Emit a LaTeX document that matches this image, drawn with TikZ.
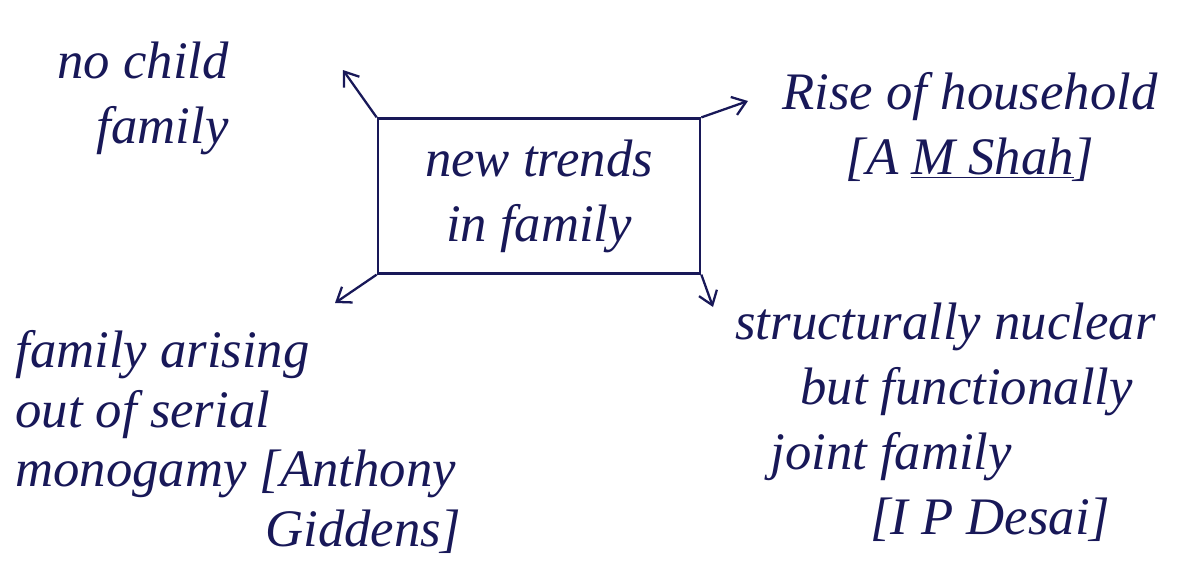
\documentclass[tikz,border=0pt]{standalone}
\usepackage{fontspec}
\setmainfont{Liberation Serif}
\usetikzlibrary{arrows.meta,positioning}
\definecolor{InkBlue}{RGB}{24,24,88}
\tikzset{
  hand/.style={text=InkBlue,font=\fontsize{30}{37}\selectfont\itshape,inner sep=0pt},
  trendbox/.style={draw=InkBlue,line width=1.3pt,minimum width=6.45cm,minimum height=3.1cm,
    align=center,text=InkBlue,font=\fontsize{30}{37}\selectfont\itshape},
  arrow/.style={-{Straight Barb[length=2.6mm,width=3.8mm]},line width=1.3pt,InkBlue}
}

\begin{document}
\begin{tikzpicture}[x=0.02cm,y=-0.02cm]
  \useasboundingbox (0,0) rectangle (1191,586);
  \node[trendbox] (trends) at (539,196) {new trends\\in family};
  % free ends of the four arrows
  \coordinate (tipA) at (343,70);
  \coordinate (tipB) at (748,101);
  \coordinate (tipC) at (335,303);
  \coordinate (tipD) at (713,307);
  \draw[arrow] (trends.north west) -- (tipA);
  \draw[arrow] (trends.north east) -- (tipB);
  \draw[arrow] (trends.south west) -- (tipC);
  \draw[arrow] (trends.south east) -- (tipD);
  % labels
  \node[hand,align=right] (nochild) at (143,98) {no child\\family};
  \node[hand,align=center] (household) at (970,127) {Rise of household\\{}[A \underline{M Shah}]};
  \node[hand,align=left,anchor=north west,font=\fontsize{30}{34}\selectfont\itshape] (serial) at (15,330)
    {family arising\\out of serial\\monogamy [Anthony\\\hspace*{5cm}Giddens]};
  \node[hand,align=left,anchor=north west] (nuclear) at (735,303)
    {structurally nuclear\\\hspace*{1.3cm}but functionally\\\hspace*{0.7cm}joint family\\\hspace*{2.7cm}[I P Desai]};
\end{tikzpicture}
\end{document}
